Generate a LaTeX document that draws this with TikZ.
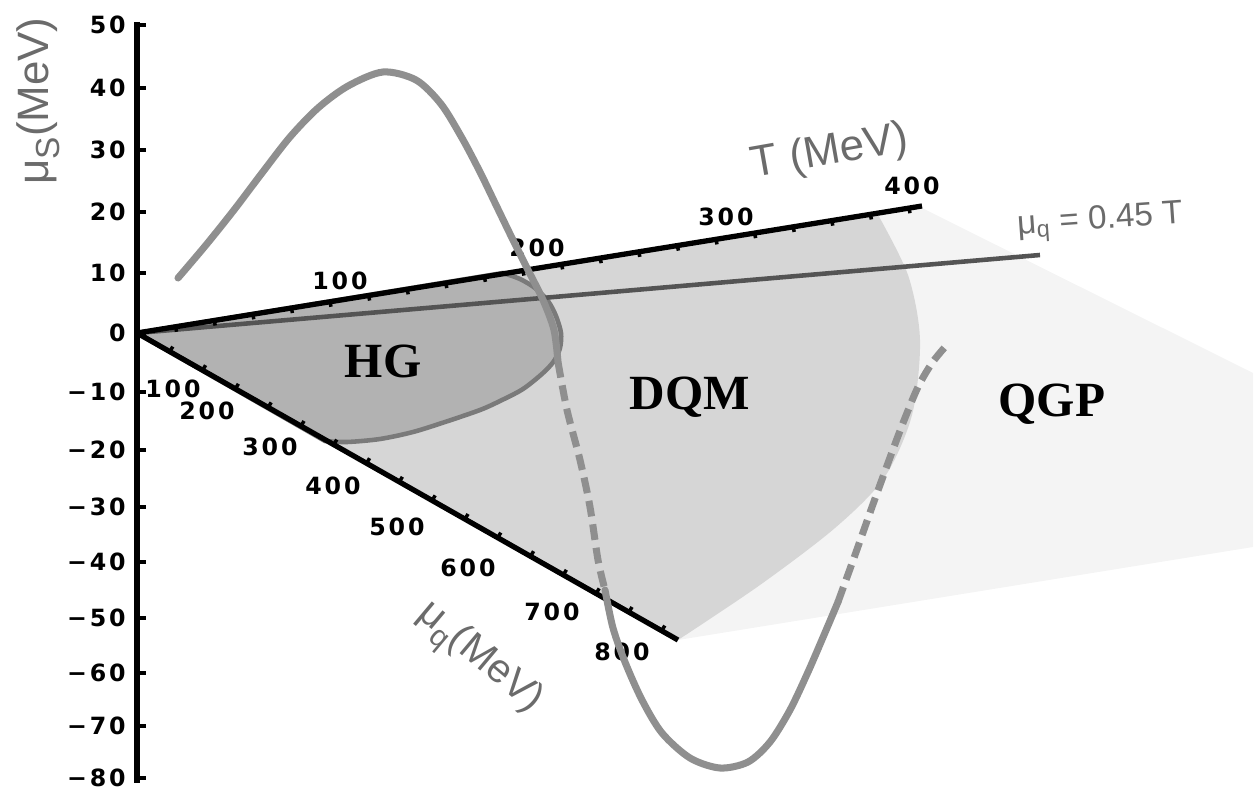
\documentclass[tikz,border=0pt]{standalone}
\usepackage{fontspec}
\setmainfont{Liberation Serif}
\setsansfont{Liberation Sans}
\newfontfamily\tickfont[LetterSpace=12]{DejaVu Sans}

\definecolor{qgpfill}{gray}{0.955}
\definecolor{dqmfill}{gray}{0.84}
\definecolor{hgfill}{gray}{0.70}
\definecolor{hgline}{gray}{0.48}
\definecolor{curvegray}{gray}{0.56}
\definecolor{ratioline}{gray}{0.33}
\definecolor{labelgray}{gray}{0.42}

\begin{document}
\begin{tikzpicture}[x=0.02cm,y=-0.02cm,line join=round,
  ticklab/.style={inner sep=0pt,font=\tickfont\bfseries\fontsize{13.5}{15}\selectfont},
  axlab/.style={inner sep=0pt,text=labelgray,font=\sffamily\fontsize{25}{30}\selectfont},
  phase/.style={inner sep=0pt,anchor=base,font=\bfseries\fontsize{28}{32}\selectfont},
  curve/.style={curvegray,line width=4pt,line cap=round},
  dashcurve/.style={curvegray,line width=4pt,dash pattern=on 9pt off 4.5pt}]
  \useasboundingbox (0,0) rectangle (1257,793);
  % regiones: QGP, DQM, HG
  \fill[qgpfill] (877,213) -- (920,207) -- (1253,373) -- (1253,547) -- (678,640) -- cycle;
  \fill[dqmfill] (137,333) -- plot[smooth] coordinates {(877,213) (908,275) (920,340)
    (912,415) (884,478) (835,528) (760,585) (678,640)} -- cycle;
  \filldraw[fill=hgfill,draw=hgline,line width=2.6pt] (137,333) -- plot[smooth] coordinates {(503,273)
    (520,279) (535,288) (548,301) (556,316) (561,333) (560,348) (554,361) (543,373) (523,389)
    (500,401) (480,410) (445,422) (413,432) (380,439) (347,442) (325,441)} -- cycle;
  % mu_q = 0.45 T
  \draw[ratioline,line width=2.6pt] (137,333) -- (1040,255);
  % ejes
  \draw[line width=3.4pt] (137,22) -- (137,783);
  \foreach \v/\y [count=\i] in {50/25,40/88,30/150,20/212,10/273,0/333,−10/392,−20/450,
      −30/507,−40/562,−50/618,−60/673,−70/726,−80/778}{
    \draw[line width=2.4pt] (137,\y) -- (146,\y);
    \node[ticklab,anchor=east] (ms\i) at (126,\y) {\v};
  }
  \draw[line width=3pt] (137,333) -- (922,206);
  \foreach \k in {1,...,20} \draw[line width=2pt] (137+38.6*\k,333-6.24*\k) -- ++(1,5);
  \foreach \t/\x/\y in {100/340/281,200/537/248,300/726/217,400/912/186}
    \node[ticklab] (t\t) at (\x,\y) {\t};
  \draw[line width=3pt] (137,333) -- (678,640);
  \foreach \k in {1,...,16} \draw[line width=2pt] (137+32.8*\k,333+18.6*\k) -- ++(3,-5);
  \foreach \m/\x/\y in {100/173/389,200/207/411,300/270/447,400/333/486,500/397/527,
      600/468/568,700/552/612,800/622/652}
    \node[ticklab] (q\m) at (\x,\y) {\m};
  % curva (tramos llenos y a trazos)
  \draw[curve] plot[smooth] coordinates {(178,278) (206,245) (234,210) (262,173) (290,137)
    (318,108) (348,86) (383,72) (416,80) (441,104) (462,138) (480,172) (496,205) (512,238)
    (528,270) (543,300) (554,330) (558,362)};
  \draw[dashcurve] plot[smooth] coordinates {(558,362) (567,410) (580,460) (590,507) (598,560) (605,590)};
  \draw[curve] plot[smooth] coordinates {(605,590) (613,628) (625,662) (642,700) (662,733)
    (690,758) (720,768) (748,762) (770,742) (790,710) (808,672) (824,635) (838,602)};
  \draw[dashcurve] plot[smooth] coordinates {(838,602) (855,555) (872,507) (888,463) (903,423)
    (918,387) (932,363) (945,347)};
  % rotulos
  \node[axlab,rotate=90] (muS) at (38,101) {μ\raisebox{-0.25em}{\fontsize{19}{20}\selectfont S}(MeV)};
  \node[axlab,rotate=10] (Tlab) at (830,153) {T (MeV)};
  \node[axlab,rotate=-40,font=\sffamily\fontsize{23}{26}\selectfont] (muq) at (478,660)
    {μ\raisebox{-0.25em}{\fontsize{17}{18}\selectfont q}(MeV)};
  \node[axlab,rotate=4,font=\sffamily\fontsize{19}{21}\selectfont] (ratio) at (1100,222)
    {μ\textsubscript{q} = 0.45 T};
  \node[phase] (HG) at (383,378) {HG};
  \node[phase] (DQM) at (690,410) {DQM};
  \node[phase] (QGP) at (1052,417) {QGP};
\end{tikzpicture}
\end{document}
